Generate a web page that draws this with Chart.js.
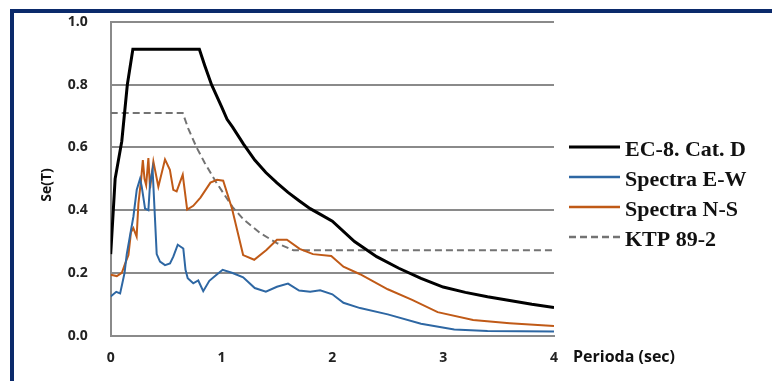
<!DOCTYPE html>
<html>
<head>
<meta charset="utf-8">
<script src="https://cdn.jsdelivr.net/npm/chart.js@4/dist/chart.umd.min.js"></script>
<style>
  body { margin: 0; background: #fff; }
  #wrap { position: relative; width: 772px; height: 381px; overflow: hidden; }
  #frame { position: absolute; left: 10px; top: 9px; width: 800px; height: 400px;
           border-top: 4px solid #0b2a6b; border-left: 4px solid #0b2a6b; }
  canvas { position: absolute; left: 0; top: 0; }
</style>
</head>
<body>
<div id="wrap">
  <div id="frame"></div>
  <canvas id="spectraChart" width="772" height="381"></canvas>
</div>
<script>
// series as [period (s), Se(T)] pairs
var ec8 = [[0,0.26],[0.04,0.5],[0.1,0.62],[0.15,0.8],[0.2,0.913],[0.8,0.913],[0.85,0.86],
  [0.91,0.8],[1.0,0.73],[1.05,0.69],[1.1,0.665],[1.2,0.61],[1.3,0.56],[1.4,0.52],[1.5,0.487],
  [1.6,0.457],[1.7,0.43],[1.8,0.405],[1.9,0.385],[2.0,0.365],[2.2,0.3],[2.4,0.252],
  [2.6,0.215],[2.8,0.183],[3.0,0.155],[3.2,0.138],[3.4,0.124],[3.6,0.112],[3.8,0.1],[4.0,0.09]];

var spectraEW = [[0,0.125],[0.05,0.14],[0.085,0.135],[0.105,0.167],[0.125,0.2],[0.145,0.26],
  [0.185,0.34],[0.205,0.38],[0.235,0.465],[0.265,0.5],[0.28,0.475],[0.31,0.405],[0.34,0.4],
  [0.355,0.485],[0.378,0.53],[0.4,0.37],[0.415,0.26],[0.445,0.236],[0.49,0.225],[0.535,0.23],
  [0.565,0.252],[0.605,0.29],[0.655,0.278],[0.675,0.21],[0.695,0.183],[0.745,0.167],
  [0.79,0.176],[0.835,0.142],[0.89,0.175],[0.955,0.194],[1.01,0.21],[1.1,0.2],[1.195,0.186],
  [1.3,0.152],[1.4,0.14],[1.5,0.156],[1.6,0.166],[1.7,0.144],[1.8,0.14],[1.89,0.145],
  [2.0,0.132],[2.1,0.105],[2.25,0.088],[2.5,0.068],[2.8,0.038],[3.1,0.02],[3.4,0.015],[4,0.013]];

var spectraNS = [[0,0.194],[0.055,0.19],[0.1,0.2],[0.13,0.23],[0.16,0.257],[0.183,0.33],
  [0.204,0.343],[0.234,0.316],[0.25,0.42],[0.275,0.5],[0.29,0.56],[0.305,0.5],[0.32,0.48],
  [0.34,0.566],[0.355,0.47],[0.385,0.555],[0.43,0.475],[0.49,0.562],[0.534,0.529],
  [0.565,0.465],[0.595,0.46],[0.65,0.513],[0.69,0.402],[0.745,0.414],[0.81,0.44],[0.9,0.488],
  [0.96,0.497],[1.015,0.494],[1.095,0.405],[1.195,0.257],[1.295,0.242],[1.405,0.273],
  [1.5,0.306],[1.59,0.306],[1.705,0.277],[1.825,0.26],[1.99,0.254],[2.1,0.22],[2.25,0.196],
  [2.5,0.148],[2.72,0.114],[2.95,0.075],[3.27,0.05],[3.6,0.04],[4,0.031]];

var ktp = [[0,0.71],[0.65,0.71],[0.7,0.66],[0.775,0.6],[0.85,0.55],[0.95,0.49],[1.1,0.41],
  [1.2,0.37],[1.35,0.327],[1.5,0.295],[1.65,0.272],[4,0.272]];

var labels = ["EC-8. Cat. D", "Spectra E-W", "Spectra N-S", "KTP 89-2"];
var colors = ["#000000", "#2e67a3", "#c05a17", "#737373"];
var xTicks = [0, 1, 2, 3, 4];
var yTicks = [0, 0.2, 0.4, 0.6, 0.8, 1.0];

function pts(arr) {
  return arr.map(function (p) { return {x: p[0], y: p[1]}; });
}

// legend + axis names drawn beside the plot
var extras = {
  id: 'extras',
  afterDraw: function (chart) {
    var ctx = chart.ctx;
    ctx.save();
    var rows = [147, 177, 207, 237];
    chart.data.datasets.forEach(function (ds, i) {
      ctx.strokeStyle = ds.borderColor;
      ctx.lineWidth = i == 0 ? 3 : 2.5;
      ctx.setLineDash(ds.borderDash || []);
      ctx.beginPath();
      ctx.moveTo(569, rows[i]);
      ctx.lineTo(620, rows[i]);
      ctx.stroke();
      ctx.setLineDash([]);
      ctx.fillStyle = '#111';
      ctx.font = 'bold 22px "Liberation Serif"';
      ctx.textBaseline = 'middle';
      ctx.textAlign = 'left';
      ctx.fillText(ds.label, 625, rows[i] + 3);
    });
    ctx.fillStyle = '#111';
    ctx.font = 'bold 16px "Open Sans"';
    ctx.textBaseline = 'middle';
    ctx.fillText('Perioda (sec)', 573, 357);
    ctx.translate(47, 185);
    ctx.rotate(-Math.PI / 2);
    ctx.textAlign = 'center';
    ctx.font = 'bold 14px "Open Sans"';
    ctx.fillText('Se(T)', 0, 0);
    ctx.restore();
  }
};

new Chart(document.getElementById('spectraChart'), {
  type: 'line',
  data: {
    datasets: [
      { label: labels[0], data: pts(ec8), borderColor: colors[0], borderWidth: 3 },
      { label: labels[1], data: pts(spectraEW), borderColor: colors[1], borderWidth: 2 },
      { label: labels[2], data: pts(spectraNS), borderColor: colors[2], borderWidth: 2 },
      { label: labels[3], data: pts(ktp), borderColor: colors[3], borderWidth: 2, borderDash: [7, 4] }
    ]
  },
  options: {
    responsive: false,
    animation: false,
    layout: { padding: { left: 0, top: 22, right: 218, bottom: 0 } },
    elements: { point: { radius: 0 }, line: { tension: 0 } },
    plugins: { legend: { display: false }, tooltip: { enabled: false } },
    scales: {
      x: {
        type: 'linear', min: 0, max: 4,
        afterBuildTicks: function (s) { s.ticks = xTicks.map(function (v) { return {value: v}; }); },
        afterFit: function (s) { s.height = 45.3; s.paddingLeft = 0; s.paddingRight = 0; },
        grid: { color: 'rgba(0,0,0,0)', drawTicks: false },
        border: { display: true, color: '#8a8a8a', width: 2 },
        ticks: { padding: 14, color: '#222', font: { family: 'Open Sans', size: 14, weight: 'bold' } }
      },
      y: {
        min: 0, max: 1,
        afterBuildTicks: function (s) { s.ticks = yTicks.map(function (v) { return {value: v}; }); },
        afterFit: function (s) { s.width = 110.7; s.paddingTop = 0; s.paddingBottom = 0; },
        grid: { color: '#8a8a8a', lineWidth: 2, drawTicks: false },
        border: { display: true, color: '#8a8a8a', width: 2 },
        ticks: { padding: 23, color: '#222', font: { family: 'Open Sans', size: 14, weight: 'bold' },
          callback: function (v) { return v.toFixed(1); } }
      }
    }
  },
  plugins: [extras]
});
</script>
</body>
</html>
